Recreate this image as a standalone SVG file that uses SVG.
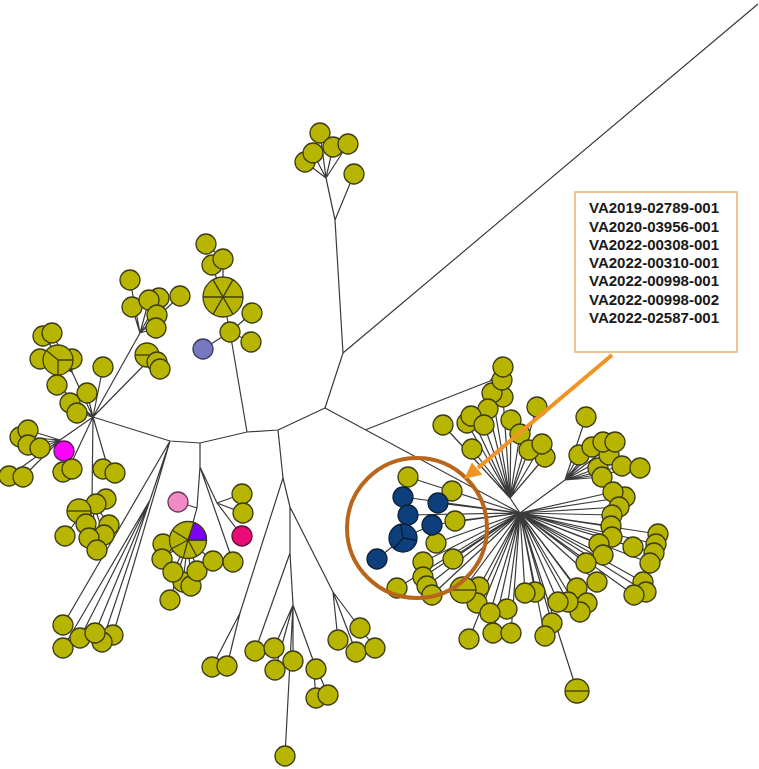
<svg xmlns="http://www.w3.org/2000/svg" width="759" height="769" viewBox="0 0 759 769">
<style>
.e{stroke:#3a3a3a;stroke-width:1.2;fill:none}
.y{fill:#b8b500;stroke:#3c3c14;stroke-width:1.3}
.b{fill:#0d3f7c;stroke:#0a1f3a;stroke-width:1.3}
.s{stroke:#3c3c14;stroke-width:1.3;fill:none}
.sb{stroke:#061a33;stroke-width:1.3;fill:none}
.t{font-family:"Liberation Sans",Arial,sans-serif;font-weight:bold;font-size:14px;fill:#1a1a1a}
</style>
<rect width="759" height="769" fill="#fff"/>
<g id="connectors">
<path class="e" d="M343,353L758,4M343,353L335,220M335,220L326,178M326,178L305,162M326,178L313,153M326,178L320,133M326,178L333,147M326,178L348,144M335,220L354,174M343,353L325,408M325,408L278,430M325,408L520,513M365,430L490,381M490,381L503,367M490,381L502,380M278,430L247,432M247,432L230,332M230,332L223,297M223,297L223,259M223,259L206,244M223,297L212,265M230,332L252,313M230,332L251,342M230,332L203,349M247,432L200,443M200,443L170,441M170,441L93,417"/>
<path class="e" d="M93,417L140,333M140,333L130,280M140,333L132,307M140,333L149,300M140,333L159,298M140,333L157,315M140,333L156,328M140,333L180,296M93,417L147,362M147,362L147,355M147,362L157,362M147,362L160,369M93,417L103,367M93,417L72,372M72,372L43,336M72,372L52,333M72,372L40,359M72,372L58,360M72,372L72,359M93,417L57,385M93,417L70,403M93,417L77,413M93,417L87,393M93,417L60,440M60,440L20,437M60,440L28,430M60,440L28,445M60,440L40,448M60,440L64,451M60,440L9,476M60,440L23,477M93,417L108,468M108,468L103,469M108,468L115,473M93,417L68,470M68,470L63,472M68,470L72,469M93,417L92,500M92,500L79,511M92,500L96,504M92,500L106,499M92,500L86,524M92,500L109,525M92,500L104,535M92,500L89,538M92,500L97,550M92,500L65,536"/>
<path class="e" d="M170,441L63,625M170,441L150,500M150,500L80,638M150,500L95,633M150,500L63,648M170,441L113,635M170,441L102,642"/>
<path class="e" d="M200,443L200,467L197,508L188,540M197,508L178,502M200,467L217,503M217,503L242,494M217,503L243,513M217,503L242,536M200,467L233,562M188,540L163,544M188,540L162,559M188,540L173,572M188,540L197,571M188,540L183,582M188,540L191,586M188,540L170,600M188,540L213,561"/>
<path class="e" d="M278,430L283,478M283,478L240,613M240,613L212,667M240,613L227,666M283,478L290,507M290,507L333,592M333,592L338,640M333,592L360,628M333,592L356,652M333,592L375,648M290,507L290,553M290,553L255,651M290,553L293,605M293,605L274,648M293,605L275,670M293,605L293,661M293,605L285,756M293,605L313,660M313,660L316,669M313,660L316,698M313,660L328,695"/>
<path class="e" d="M520,513L510,498M510,498L492,393M510,498L503,397M510,498L471,416M510,498L467,423M510,498L484,425M510,498L488,409M510,498L511,420M510,498L520,434M510,498L537,407M510,498L529,450M510,498L542,444M510,498L545,457M510,498L472,449M510,498L443,425M520,513L565,480M565,480L579,455M565,480L586,417M565,480L592,447M565,480L603,442M565,480L615,442M565,480L609,455M565,480L598,468M565,480L622,466M565,480L640,468M565,480L602,477"/>
<path class="e" d="M520,513L613,492M520,513L625,497M520,513L619,507M520,513L612,515M520,513L611,526M520,513L612,537M520,513L599,544M520,513L603,555M520,513L633,547M520,513L658,534M520,513L656,544M520,513L654,553M520,513L650,563M520,513L586,563M520,513L597,582M520,513L643,582M520,513L646,592M520,513L634,595M520,513L577,588M520,513L587,603M520,513L580,612M520,513L558,602M520,513L568,602M520,513L525,593M520,513L535,592M520,513L507,609M520,513L490,613M520,513L477,603M520,513L479,587M520,513L469,639M520,513L493,633M520,513L511,633M520,513L552,623M520,513L545,636M520,513L577,691M520,513L463,590"/>
<path class="e" d="M520,513L408,477M520,513L452,491M520,513L455,521M520,513L436,543M520,513L423,562M520,513L453,559M520,513L438,503M520,513L403,497M520,513L408,515M520,513L432,525M520,513L423,577M520,513L397,588M520,513L427,586M520,513L432,595M432,525L403,538L377,559"/>
</g>
<g id="nodes">
<g id="n1"><circle class="y" cx="305" cy="162" r="10"/></g>
<g id="n2"><circle class="y" cx="313" cy="153" r="10"/></g>
<g id="n3"><circle class="y" cx="320" cy="133" r="10"/></g>
<g id="n4"><circle class="y" cx="333" cy="147" r="10"/></g>
<g id="n5"><circle class="y" cx="348" cy="144" r="10"/></g>
<g id="n6"><circle class="y" cx="354" cy="174" r="10"/></g>
<g id="n7"><circle class="y" cx="206" cy="244" r="10"/></g>
<g id="n8"><circle class="y" cx="212" cy="265" r="10"/></g>
<g id="n9"><circle class="y" cx="223" cy="259" r="10"/></g>
<g id="n10"><circle class="y" cx="223" cy="297" r="20"/><path class="s" d="M203,297H243M233,314.3L213,279.7M213,314.3L233,279.7"/></g>
<g id="n11"><circle class="y" cx="252" cy="313" r="10"/></g>
<g id="n12"><circle class="y" cx="230" cy="332" r="10"/></g>
<g id="n13"><circle class="y" cx="251" cy="342" r="10"/></g>
<g id="n14"><circle cx="203" cy="349" r="10" fill="#7878c0" stroke="#3a3a5a" stroke-width="1.3"/></g>
<g id="n15"><circle class="y" cx="130" cy="280" r="10"/></g>
<g id="n16"><circle class="y" cx="132" cy="307" r="10"/></g>
<g id="n17"><circle class="y" cx="159" cy="298" r="10"/></g>
<g id="n18"><circle class="y" cx="149" cy="300" r="10"/></g>
<g id="n19"><circle class="y" cx="180" cy="296" r="10"/></g>
<g id="n20"><circle class="y" cx="157" cy="315" r="10"/></g>
<g id="n21"><circle class="y" cx="156" cy="328" r="10"/></g>
<g id="n22"><circle class="y" cx="147" cy="355" r="12"/><path class="s" d="M135,355H159"/></g>
<g id="n23"><circle class="y" cx="157" cy="362" r="10"/></g>
<g id="n24"><circle class="y" cx="160" cy="369" r="10"/></g>
<g id="n25"><circle class="y" cx="103" cy="367" r="10"/></g>
<g id="n26"><circle class="y" cx="43" cy="336" r="10"/></g>
<g id="n27"><circle class="y" cx="52" cy="333" r="10"/></g>
<g id="n28"><circle class="y" cx="40" cy="359" r="10"/></g>
<g id="n29"><circle class="y" cx="72" cy="359" r="10"/></g>
<g id="n30"><circle class="y" cx="58" cy="360" r="15"/><path class="s" d="M58,360L46.5,350.4M58,360H73M58,360V375"/></g>
<g id="n31"><circle class="y" cx="87" cy="393" r="10"/></g>
<g id="n32"><circle class="y" cx="57" cy="385" r="10"/></g>
<g id="n33"><circle class="y" cx="70" cy="403" r="10"/></g>
<g id="n34"><circle class="y" cx="77" cy="413" r="10"/></g>
<g id="n35"><circle class="y" cx="20" cy="437" r="10"/></g>
<g id="n36"><circle class="y" cx="28" cy="430" r="10"/></g>
<g id="n37"><circle class="y" cx="28" cy="445" r="10"/></g>
<g id="n38"><circle class="y" cx="40" cy="448" r="10"/></g>
<g id="n39"><circle cx="64" cy="451" r="10" fill="#ff00ff" stroke="#5a1a5a" stroke-width="1.3"/></g>
<g id="n40"><circle class="y" cx="9" cy="476" r="10"/></g>
<g id="n41"><circle class="y" cx="23" cy="477" r="10"/></g>
<g id="n42"><circle class="y" cx="63" cy="472" r="10"/></g>
<g id="n43"><circle class="y" cx="72" cy="469" r="10"/></g>
<g id="n44"><circle class="y" cx="103" cy="469" r="10"/></g>
<g id="n45"><circle class="y" cx="115" cy="473" r="10"/></g>
<g id="n46"><circle class="y" cx="106" cy="499" r="10"/></g>
<g id="n47"><circle class="y" cx="96" cy="504" r="10"/></g>
<g id="n48"><circle class="y" cx="79" cy="511" r="12"/><path class="s" d="M67,511H91"/></g>
<g id="n49"><circle class="y" cx="86" cy="524" r="10"/></g>
<g id="n50"><circle class="y" cx="109" cy="525" r="10"/></g>
<g id="n51"><circle class="y" cx="104" cy="535" r="10"/></g>
<g id="n52"><circle class="y" cx="89" cy="538" r="10"/></g>
<g id="n53"><circle class="y" cx="97" cy="550" r="10"/></g>
<g id="n54"><circle class="y" cx="65" cy="536" r="10"/></g>
<g id="n55"><circle class="y" cx="63" cy="625" r="10"/></g>
<g id="n56"><circle class="y" cx="63" cy="648" r="10"/></g>
<g id="n57"><circle class="y" cx="80" cy="638" r="10"/></g>
<g id="n58"><circle class="y" cx="113" cy="635" r="10"/></g>
<g id="n59"><circle class="y" cx="102" cy="642" r="10"/></g>
<g id="n60"><circle class="y" cx="95" cy="633" r="10"/></g>
<g id="n61"><circle cx="178" cy="502" r="10" fill="#f28ac4" stroke="#6a3a5a" stroke-width="1.3"/></g>
<g id="n62"><circle class="y" cx="163" cy="544" r="10"/></g>
<g id="n63"><circle class="y" cx="162" cy="559" r="10"/></g>
<g id="n64"><circle class="y" cx="170" cy="600" r="10"/></g>
<g id="n65"><circle class="y" cx="183" cy="582" r="10"/></g>
<g id="n66"><circle class="y" cx="173" cy="572" r="10"/></g>
<g id="n67"><circle class="y" cx="191" cy="586" r="10"/></g>
<g id="n68"><circle class="y" cx="197" cy="571" r="10"/></g>
<g id="n69"><circle class="y" cx="213" cy="561" r="10"/></g>
<g id="n70"><circle class="y" cx="233" cy="562" r="10"/></g>
<g id="n71"><circle class="y" cx="188" cy="540" r="18.5"/><path d="M188,540L194,522.5A18.5,18.5 0 0 1 206.5,540Z" fill="#8000ff" stroke="#3c3c14" stroke-width="1.3"/><path class="s" d="M188,540H206.5M188,540L194,522.5M188,540L172.3,530.2M188,540L171.7,548.7M188,540L183.2,557.9M188,540L196.7,556.3"/></g>
<g id="n72"><circle class="y" cx="242" cy="494" r="10"/></g>
<g id="n73"><circle class="y" cx="243" cy="513" r="10"/></g>
<g id="n74"><circle cx="242" cy="536" r="10" fill="#ea0a78" stroke="#5a1030" stroke-width="1.3"/></g>
<g id="n75"><circle class="y" cx="212" cy="667" r="10"/></g>
<g id="n76"><circle class="y" cx="227" cy="666" r="10"/></g>
<g id="n77"><circle class="y" cx="255" cy="651" r="10"/></g>
<g id="n78"><circle class="y" cx="274" cy="648" r="10"/></g>
<g id="n79"><circle class="y" cx="293" cy="661" r="10"/></g>
<g id="n80"><circle class="y" cx="275" cy="670" r="10"/></g>
<g id="n81"><circle class="y" cx="316" cy="669" r="10"/></g>
<g id="n82"><circle class="y" cx="316" cy="698" r="10"/></g>
<g id="n83"><circle class="y" cx="328" cy="695" r="10"/></g>
<g id="n84"><circle class="y" cx="285" cy="756" r="10"/></g>
<g id="n85"><circle class="y" cx="338" cy="640" r="10"/></g>
<g id="n86"><circle class="y" cx="360" cy="628" r="10"/></g>
<g id="n87"><circle class="y" cx="356" cy="652" r="10"/></g>
<g id="n88"><circle class="y" cx="375" cy="648" r="10"/></g>
<g id="n89"><circle class="y" cx="503" cy="397" r="10"/></g>
<g id="n90"><circle class="y" cx="492" cy="393" r="10"/></g>
<g id="n91"><circle class="y" cx="502" cy="380" r="10"/></g>
<g id="n92"><circle class="y" cx="503" cy="367" r="10"/></g>
<g id="n93"><circle class="y" cx="488" cy="409" r="10"/></g>
<g id="n94"><circle class="y" cx="467" cy="423" r="10"/></g>
<g id="n95"><circle class="y" cx="471" cy="416" r="10"/></g>
<g id="n96"><circle class="y" cx="484" cy="425" r="10"/></g>
<g id="n97"><circle class="y" cx="511" cy="420" r="10"/></g>
<g id="n98"><circle class="y" cx="520" cy="434" r="10"/></g>
<g id="n99"><circle class="y" cx="537" cy="407" r="10"/></g>
<g id="n100"><circle class="y" cx="545" cy="457" r="10"/></g>
<g id="n101"><circle class="y" cx="529" cy="450" r="10"/></g>
<g id="n102"><circle class="y" cx="542" cy="444" r="10"/></g>
<g id="n103"><circle class="y" cx="472" cy="449" r="10"/></g>
<g id="n104"><circle class="y" cx="443" cy="425" r="10"/></g>
<g id="n105"><circle class="y" cx="586" cy="417" r="10"/></g>
<g id="n106"><circle class="y" cx="579" cy="455" r="10"/></g>
<g id="n107"><circle class="y" cx="598" cy="468" r="10"/></g>
<g id="n108"><circle class="y" cx="592" cy="447" r="10"/></g>
<g id="n109"><circle class="y" cx="609" cy="455" r="10"/></g>
<g id="n110"><circle class="y" cx="603" cy="442" r="10"/></g>
<g id="n111"><circle class="y" cx="615" cy="442" r="10"/></g>
<g id="n112"><circle class="y" cx="622" cy="466" r="10"/></g>
<g id="n113"><circle class="y" cx="640" cy="468" r="10"/></g>
<g id="n114"><circle class="y" cx="602" cy="477" r="10"/></g>
<g id="n115"><circle class="y" cx="625" cy="497" r="10"/></g>
<g id="n116"><circle class="y" cx="613" cy="492" r="10"/></g>
<g id="n117"><circle class="y" cx="619" cy="507" r="10"/></g>
<g id="n118"><circle class="y" cx="612" cy="515" r="10"/></g>
<g id="n119"><circle class="y" cx="611" cy="526" r="10"/></g>
<g id="n120"><circle class="y" cx="612" cy="537" r="10"/></g>
<g id="n121"><circle class="y" cx="599" cy="544" r="10"/></g>
<g id="n122"><circle class="y" cx="603" cy="555" r="10"/></g>
<g id="n123"><circle class="y" cx="633" cy="547" r="10"/></g>
<g id="n124"><circle class="y" cx="658" cy="534" r="10"/></g>
<g id="n125"><circle class="y" cx="656" cy="544" r="10"/></g>
<g id="n126"><circle class="y" cx="654" cy="553" r="10"/></g>
<g id="n127"><circle class="y" cx="650" cy="563" r="10"/></g>
<g id="n128"><circle class="y" cx="586" cy="563" r="10"/></g>
<g id="n129"><circle class="y" cx="597" cy="582" r="10"/></g>
<g id="n130"><circle class="y" cx="643" cy="582" r="10"/></g>
<g id="n131"><circle class="y" cx="646" cy="592" r="10"/></g>
<g id="n132"><circle class="y" cx="634" cy="595" r="10"/></g>
<g id="n133"><circle class="y" cx="577" cy="588" r="10"/></g>
<g id="n134"><circle class="y" cx="587" cy="603" r="10"/></g>
<g id="n135"><circle class="y" cx="580" cy="612" r="10"/></g>
<g id="n136"><circle class="y" cx="568" cy="602" r="10"/></g>
<g id="n137"><circle class="y" cx="558" cy="602" r="10"/></g>
<g id="n138"><circle class="y" cx="535" cy="592" r="10"/></g>
<g id="n139"><circle class="y" cx="525" cy="593" r="10"/></g>
<g id="n140"><circle class="y" cx="507" cy="609" r="10"/></g>
<g id="n141"><circle class="y" cx="479" cy="587" r="10"/></g>
<g id="n142"><circle class="y" cx="477" cy="603" r="10"/></g>
<g id="n143"><circle class="y" cx="490" cy="613" r="10"/></g>
<g id="n144"><circle class="y" cx="469" cy="639" r="10"/></g>
<g id="n145"><circle class="y" cx="493" cy="633" r="10"/></g>
<g id="n146"><circle class="y" cx="511" cy="633" r="10"/></g>
<g id="n147"><circle class="y" cx="552" cy="623" r="10"/></g>
<g id="n148"><circle class="y" cx="545" cy="636" r="10"/></g>
<g id="n149"><circle class="y" cx="577" cy="691" r="12"/><path class="s" d="M565,691H589"/></g>
<g id="n150"><circle class="y" cx="408" cy="477" r="10"/></g>
<g id="n151"><circle class="y" cx="452" cy="491" r="10"/></g>
<g id="n152"><circle class="y" cx="455" cy="521" r="10"/></g>
<g id="n153"><circle class="y" cx="436" cy="543" r="10"/></g>
<g id="n154"><circle class="y" cx="453" cy="559" r="10"/></g>
<g id="n155"><circle class="y" cx="423" cy="562" r="10"/></g>
<g id="n156"><circle class="y" cx="423" cy="577" r="10"/></g>
<g id="n157"><circle class="y" cx="397" cy="588" r="10"/></g>
<g id="n158"><circle class="y" cx="427" cy="586" r="10"/></g>
<g id="n159"><circle class="y" cx="432" cy="595" r="10"/></g>
<g id="n160"><circle class="y" cx="463" cy="590" r="13"/><path class="s" d="M450,590H476"/></g>
<g id="n161"><circle class="b" cx="403" cy="497" r="10"/></g>
<g id="n162"><circle class="b" cx="438" cy="503" r="10"/></g>
<g id="n163"><circle class="b" cx="408" cy="515" r="10"/></g>
<g id="n164"><circle class="b" cx="432" cy="525" r="10"/></g>
<g id="n165"><circle class="b" cx="403" cy="538" r="14"/><path class="sb" d="M403,538L400.6,524.2M403,538L416.8,540.4M403,538L394,548.7"/></g>
<g id="n166"><circle class="b" cx="377" cy="559" r="10"/></g>
</g>
<g id="highlight">
<circle cx="417" cy="528" r="70" fill="none" stroke="#b9661c" stroke-width="4"/>
<path d="M612,355L478,468" stroke="#f29424" stroke-width="4" fill="none"/>
<polygon points="464,479 482.4,474.8 472,462.6" fill="#f29424"/>
</g>
<g id="label">
<rect x="575" y="192" width="162" height="160" fill="#fff" stroke="#efc58c" stroke-width="2"/>
<text class="t" x="589" y="213" textLength="130" lengthAdjust="spacingAndGlyphs">VA2019-02789-001</text>
<text class="t" x="589" y="231.5" textLength="130" lengthAdjust="spacingAndGlyphs">VA2020-03956-001</text>
<text class="t" x="589" y="250" textLength="130" lengthAdjust="spacingAndGlyphs">VA2022-00308-001</text>
<text class="t" x="589" y="268" textLength="130" lengthAdjust="spacingAndGlyphs">VA2022-00310-001</text>
<text class="t" x="589" y="286" textLength="130" lengthAdjust="spacingAndGlyphs">VA2022-00998-001</text>
<text class="t" x="589" y="304.5" textLength="130" lengthAdjust="spacingAndGlyphs">VA2022-00998-002</text>
<text class="t" x="589" y="322.5" textLength="130" lengthAdjust="spacingAndGlyphs">VA2022-02587-001</text>
</g>
</svg>
